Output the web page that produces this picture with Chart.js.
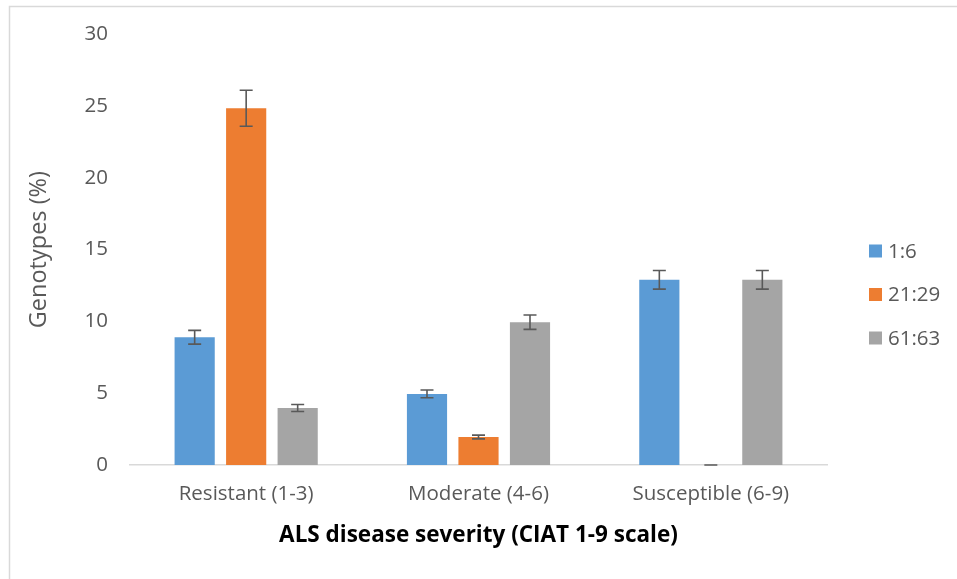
<!DOCTYPE html>
<html>
<head>
<meta charset="utf-8">
<script src="https://cdn.jsdelivr.net/npm/chart.js@4"></script>
<style>
html,body{margin:0;padding:0;background:#fff;}
#wrap{position:relative;width:957px;height:579px;}
</style>
</head>
<body>
<div id="wrap"><canvas id="c" width="957" height="579"></canvas></div>
<script>
const categories = ["Resistant (1-3)", "Moderate (4-6)", "Susceptible (6-9)"];
const seriesNames = ["1:6", "21:29", "61:63"];
const values16 = [8.9, 4.95, 12.9];
const values2129 = [24.85, 1.95, 0];
const values6163 = [3.97, 9.95, 12.9];
const err16 = [0.48, 0.27, 0.65];
const err2129 = [1.25, 0.13, 0];
const err6163 = [0.24, 0.5, 0.65];
const yTicks = [0, 5, 10, 15, 20, 25, 30];
const colors = ["#5B9BD5", "#ED7D31", "#A5A5A5"];

const FONT = "'Open Sans'";
const values = [values16, values2129, values6163];
const errs = [err16, err2129, err6163];

const errorBars = {
  id: 'errorBars',
  afterDatasetsDraw(chart) {
    const ctx = chart.ctx;
    const y = chart.scales.y;
    ctx.save();
    ctx.strokeStyle = '#595959';
    ctx.lineWidth = 1.6;
    chart.data.datasets.forEach((ds, di) => {
      const meta = chart.getDatasetMeta(di);
      meta.data.forEach((bar, i) => {
        const v = ds.data[i], e = ds.errors[i];
        const top = y.getPixelForValue(v + e);
        const bot = y.getPixelForValue(v - e);
        const x = bar.x;
        ctx.beginPath();
        ctx.moveTo(x, top); ctx.lineTo(x, bot);
        ctx.moveTo(x - 6.5, top); ctx.lineTo(x + 6.5, top);
        ctx.moveTo(x - 6.5, bot); ctx.lineTo(x + 6.5, bot);
        ctx.stroke();
      });
    });
    ctx.restore();
  }
};

const frameAndLegend = {
  id: 'frameAndLegend',
  beforeDraw(chart) {
    const ctx = chart.ctx;
    ctx.save();
    ctx.fillStyle = '#fff';
    ctx.fillRect(0, 0, chart.width, chart.height);
    ctx.strokeStyle = '#D9D9D9';
    ctx.lineWidth = 1.5;
    ctx.strokeRect(9.5, 6.5, chart.width + 20, chart.height + 20);
    ctx.restore();
  },
  afterDraw(chart) {
    const ctx = chart.ctx;
    ctx.save();
    ctx.font = "20.5px " + FONT;
    ctx.textBaseline = 'middle';
    chart.data.datasets.forEach((ds, i) => {
      const cy = 251 + i * 43.5;
      ctx.fillStyle = ds.backgroundColor;
      ctx.fillRect(869, cy - 6.5, 13, 13);
      ctx.fillStyle = '#595959';
      ctx.fillText(ds.label, 888, cy + 1);
    });
    ctx.restore();
  }
};

new Chart(document.getElementById('c'), {
  type: 'bar',
  data: {
    labels: categories,
    datasets: seriesNames.map((n, i) => ({
      label: n,
      data: values[i],
      errors: errs[i],
      backgroundColor: colors[i],
      borderWidth: 0,
      categoryPercentage: 0.665,
      barPercentage: 0.78
    }))
  },
  options: {
    responsive: false,
    animation: false,
    devicePixelRatio: 1,
    layout: { padding: { top: 34, right: 130, bottom: 0, left: 10 } },
    plugins: { legend: { display: false }, tooltip: { enabled: false } },
    scales: {
      x: {
        grid: { display: false, drawTicks: false },
        border: { display: true, color: '#D9D9D9', width: 1.5 },
        ticks: { color: '#595959', font: { family: FONT, size: 20.5 }, padding: 17, maxRotation: 0 },
        title: { display: true, text: 'ALS disease severity (CIAT 1-9 scale)', color: '#000',
                 font: { family: FONT, size: 22.5, weight: 'bold' }, padding: { top: 0, bottom: 30 } },
        afterFit(s) { s.height = 114; }
      },
      y: {
        min: 0, max: 30,
        afterBuildTicks(s) { s.ticks = yTicks.map(v => ({ value: v })); },
        grid: { display: false, drawTicks: false },
        border: { display: false },
        ticks: { color: '#595959', font: { family: FONT, size: 20.5 }, padding: 22 },
        title: { display: true, text: 'Genotypes (%)', color: '#595959',
                 font: { family: FONT, size: 23.5 }, padding: { top: 15, bottom: 0 } },
        afterFit(s) { s.width = 120; }
      }
    }
  },
  plugins: [errorBars, frameAndLegend]
});
</script>
</body>
</html>
